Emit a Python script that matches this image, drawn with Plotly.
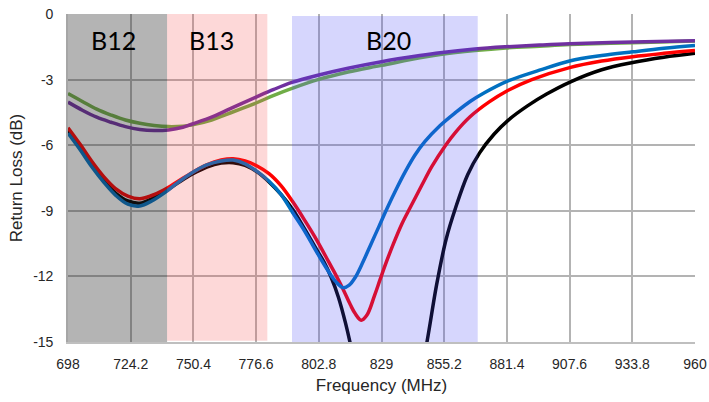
import plotly.graph_objects as go

# ---------------- data ----------------
x_tick_labels = ["698", "724.2", "750.4", "776.6", "802.8", "829", "855.2",
                 "881.4", "907.6", "933.8", "960"]
y_tick_values = [0, -3, -6, -9, -12, -15]

freq_green = [698, 704, 710, 716, 722, 728, 734, 740, 746, 750, 758, 764, 770,
              776.6, 784, 791.6, 802.4, 815, 829, 845, 853.5, 868, 881, 895,
              907.6, 934, 960]
rl_green = [-3.64, -4.0, -4.35, -4.62, -4.85, -5.0, -5.1, -5.15, -5.13, -5.07,
            -4.85, -4.6, -4.35, -4.07, -3.72, -3.4, -3.0, -2.65, -2.35, -2.0,
            -1.85, -1.67, -1.55, -1.47, -1.4, -1.31, -1.24]

freq_purple = [698, 704, 710, 716, 722, 728, 734, 740, 746, 750, 758, 764, 770,
               776.6, 784, 791.6, 802.4, 815, 829, 845, 853.5, 868, 881, 895,
               907.6, 934, 960]
rl_purple = [-4.03, -4.4, -4.72, -4.95, -5.15, -5.28, -5.33, -5.3, -5.18, -5.03,
             -4.72, -4.42, -4.12, -3.8, -3.45, -3.13, -2.8, -2.48, -2.18, -1.9,
             -1.77, -1.6, -1.5, -1.42, -1.36, -1.28, -1.22]

freq_black = [698, 703, 708, 713, 718, 723, 728, 733, 738, 744, 750, 756, 762,
              767, 772, 777, 782, 787, 792, 797, 802, 805, 808, 811, 814, 817,
              821, 826, 832, 838, 843, 848, 852, 856, 860, 865, 870, 876, 882,
              890, 898, 908, 921, 934, 947, 960]
rl_black = [-5.33, -6.1, -6.9, -7.6, -8.2, -8.55, -8.65, -8.45, -8.15, -7.72,
            -7.32, -7.0, -6.82, -6.8, -6.92, -7.22, -7.68, -8.25, -8.95, -9.85,
            -10.8, -11.35, -12.05, -12.95, -14.15, -15.6, -17.8, -20.0, -21.0,
            -20.0, -17.8, -15.0, -12.4, -10.3, -8.85, -7.35, -6.35, -5.5, -4.85,
            -4.2, -3.66, -3.1, -2.55, -2.22, -1.98, -1.8]

freq_red = [698, 703, 708, 713, 718, 723, 728, 733, 738, 744, 750, 756, 762,
            767, 772, 777, 782, 787, 792, 797, 802, 807, 810, 813, 816, 818,
            820.5, 823, 826, 828.4, 831, 834, 837.5, 841, 846, 850, 855.8, 860,
            866, 874, 881.4, 891.8, 907.6, 921, 934, 947, 960]
rl_red = [-5.2, -5.95, -6.75, -7.45, -8.0, -8.33, -8.45, -8.3, -8.05, -7.65,
          -7.25, -6.9, -6.68, -6.62, -6.72, -6.95, -7.3, -7.85, -8.6, -9.45,
          -10.35, -11.35, -11.95, -12.6, -13.3, -13.7, -14.0, -13.75, -12.9,
          -12.15, -11.35, -10.5, -9.6, -8.85, -7.8, -6.98, -6.0, -5.4, -4.7,
          -4.02, -3.52, -3.0, -2.45, -2.15, -1.95, -1.8, -1.67]

freq_blue = [698, 703, 708, 713, 718, 723, 728, 733, 738, 744, 750, 756, 762,
             767, 772, 777, 782, 787, 792, 797, 802, 807, 810, 813, 815.5, 818,
             821, 824.5, 828, 831.5, 835, 839, 843, 847, 853.5, 860, 866, 872,
             881.4, 895, 907.6, 921, 934, 947, 960]
rl_blue = [-5.45, -6.2, -7.0, -7.7, -8.3, -8.7, -8.78, -8.55, -8.2, -7.7,
           -7.25, -6.9, -6.72, -6.68, -6.85, -7.2, -7.65, -8.25, -9.1, -9.95,
           -10.9, -11.8, -12.25, -12.52, -12.4, -12.05, -11.4, -10.55, -9.7,
           -8.85, -8.05, -7.2, -6.45, -5.85, -5.1, -4.5, -4.0, -3.6, -3.08,
           -2.57, -2.15, -1.9, -1.73, -1.57, -1.44]

band_names = ["B12", "B13", "B20"]
band_start = [698, 739.4, 791.6]
band_end = [739.4, 781.3, 869.2]

# ---------------- figure ----------------
fig = go.Figure()

series = [
    (freq_green, rl_green, "#70ad47"),
    (freq_purple, rl_purple, "#7030a0"),
    (freq_black, rl_black, "#000000"),
    (freq_red, rl_red, "#ff0000"),
    (freq_blue, rl_blue, "#0070c0"),
]
for fx, fy, col in series:
    fig.add_trace(go.Scatter(
        x=fx, y=fy, mode="lines",
        line=dict(color=col, width=3.5, shape="spline", smoothing=1.0),
        showlegend=False, hoverinfo="skip",
    ))

band_fill = ["rgba(40,40,40,0.35)", "rgba(245,61,61,0.20)", "rgba(67,67,245,0.22)"]
band_top = [0, 0, -0.09]
band_bottom = [-15, -14.94, -15]
band_label_x = [717.2, 757.8, 832.1]
for i, name in enumerate(band_names):
    fig.add_shape(type="rect", xref="x", yref="y",
                  x0=band_start[i], x1=band_end[i],
                  y0=band_bottom[i], y1=band_top[i],
                  fillcolor=band_fill[i], line=dict(width=0), layer="above")
    fig.add_annotation(x=band_label_x[i], y=-1.17, xref="x", yref="y",
                       text=name, showarrow=False,
                       font=dict(family="Lato", size=25, color="#000000"))

tick_font = dict(family="Liberation Sans, Arial", size=14, color="#262626")
title_font = dict(family="Liberation Sans, Arial", size=17, color="#262626")
fig.update_xaxes(
    range=[698, 960],
    tickmode="array",
    tickvals=[float(t) for t in x_tick_labels],
    ticktext=x_tick_labels,
    showgrid=True, gridcolor="#b3b3b3", gridwidth=1.6,
    zeroline=False,
    showline=True, linecolor="#bfbfbf", linewidth=2,
    ticks="outside", ticklen=8, tickcolor="rgba(0,0,0,0)",
    tickfont=tick_font,
    automargin=False,
    title=dict(text="Frequency (MHz)", font=title_font, standoff=8),
)
fig.update_yaxes(
    range=[-15, 0],
    tickmode="array",
    tickvals=y_tick_values,
    ticktext=[str(v) for v in y_tick_values],
    showgrid=True, gridcolor="#b3b3b3", gridwidth=1.6,
    zeroline=False,
    showline=True, linecolor="#a6a6a6", linewidth=1.6,
    ticks="outside", ticklen=10, tickcolor="rgba(0,0,0,0)",
    tickfont=tick_font,
    automargin=False,
    title=dict(text="Return Loss (dB)", font=title_font, standoff=6),
)
fig.update_layout(
    width=709, height=402,
    margin=dict(l=68, r=14, t=14, b=60),
    plot_bgcolor="#ffffff", paper_bgcolor="#ffffff",
    showlegend=False,
)

fig.write_html("out.html")
